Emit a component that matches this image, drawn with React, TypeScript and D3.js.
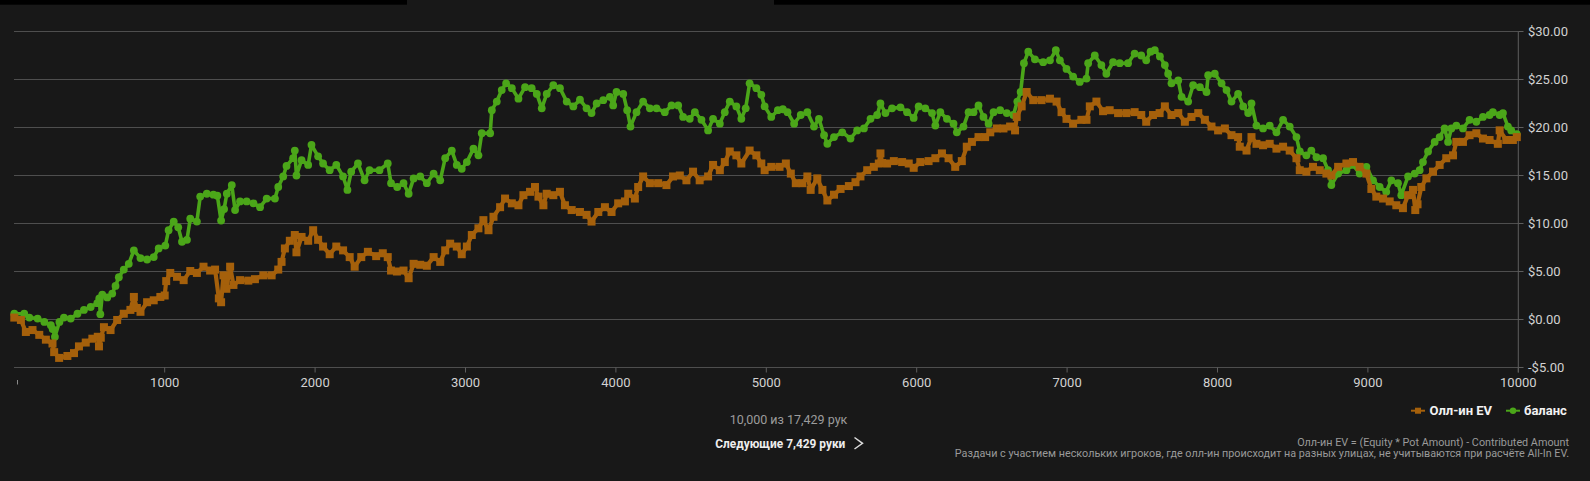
import React, { useEffect } from "react";
import * as d3 from "d3";

// ---- data (hand number, dollars) ----
const balHands = [0,66,100,155,200,243,255,270,300,330,375,420,463,508,552,565,572,585,618,651,673,695,728,761,795,839,883,927,960,1004,1026,1060,1090,1115,1148,1170,1214,1236,1280,1324,1350,1375,1395,1413,1446,1468,1501,1545,1590,1634,1678,1733,1755,1788,1810,1854,1865,1876,1910,1954,1976,2020,2053,2097,2141,2186,2215,2240,2285,2329,2362,2428,2483,2505,2546,2588,2622,2655,2699,2743,2788,2832,2865,2909,2942,2975,3009,3053,3086,3108,3164,3175,3208,3241,3270,3308,3352,3396,3440,3474,3507,3540,3584,3628,3673,3717,3761,3805,3838,3872,3916,3960,3982,4004,4049,4075,4097,4137,4181,4226,4270,4325,4370,4414,4447,4491,4525,4569,4613,4646,4691,4724,4757,4801,4834,4863,4889,4934,4967,4989,5033,5077,5110,5141,5185,5229,5273,5317,5350,5384,5406,5450,5505,5560,5604,5649,5693,5737,5759,5792,5836,5892,5936,5980,6013,6057,6102,6124,6157,6201,6245,6267,6311,6345,6378,6411,6444,6478,6511,6555,6599,6643,6669,6691,6713,6742,6786,6841,6886,6925,6952,6996,7040,7084,7129,7140,7184,7228,7261,7306,7350,7405,7449,7493,7526,7555,7583,7617,7650,7672,7694,7739,7761,7805,7838,7883,7927,7938,7982,8027,8060,8093,8137,8171,8204,8226,8259,8303,8347,8392,8436,8480,8525,8547,8591,8624,8658,8702,8735,8757,8802,8857,8901,8945,8990,9034,9078,9122,9156,9200,9222,9267,9311,9344,9366,9400,9444,9477,9510,9533,9555,9588,9632,9676,9721,9765,9809,9831,9876,9898,9931,9953,9990];
const balValues = [0.6,0.6,0.2,0.1,-0.25,-0.6,-1.0,-1.8,-0.25,0.2,0.1,0.6,1.0,1.3,1.7,2.2,0.55,2.6,2.3,2.7,3.5,4.4,5.2,5.8,7.2,6.4,6.25,6.5,7.4,7.7,9.3,10.2,9.6,8.1,8.3,10.5,10.2,12.8,13.1,13.0,12.9,10.3,11.5,13.1,14.0,11.4,12.3,12.3,12.1,11.7,12.6,12.6,13.8,14.9,16.0,16.8,17.6,15.0,16.6,16.1,18.2,17.0,16.25,15.55,16.1,14.9,13.5,15.4,16.25,14.5,15.55,15.55,16.25,14.2,13.8,14.2,13.1,14.7,14.9,14.2,15.2,14.5,16.8,17.6,16.1,15.7,16.4,17.8,17.1,19.4,19.4,21.8,22.7,23.9,24.6,24.1,23.0,24.2,24.1,23.5,22.0,23.5,24.4,24.1,22.7,22.2,22.9,22.0,21.5,22.5,22.85,23.2,22.3,23.7,23.5,21.8,20.1,21.6,22.7,22.0,22.0,21.6,22.3,22.3,21.1,20.9,21.6,20.8,19.7,20.9,20.4,21.6,22.7,22.2,20.9,22.0,24.6,24.1,23.4,22.2,21.1,21.8,21.9,21.6,20.4,21.3,21.6,20.1,20.9,19.2,18.3,19.0,19.5,18.85,19.7,19.9,20.9,21.3,22.5,21.5,22.0,22.1,21.6,21.0,22.2,22.0,21.5,20.2,21.6,20.9,20.4,19.5,20.1,21.6,21.6,22.3,21.1,20.4,21.6,21.8,21.5,21.3,22.7,23.7,26.7,27.9,27.1,26.8,27.0,28.05,27.0,26.1,25.3,24.75,25.1,26.7,27.5,26.5,25.6,26.8,26.7,26.7,27.7,27.5,27.0,27.9,28.05,27.4,26.5,25.6,24.6,24.9,23.2,22.7,24.4,24.2,23.7,25.45,25.6,24.6,23.9,22.7,23.5,22.2,21.5,22.5,20.2,19.9,20.2,19.5,20.8,20.1,19.0,17.5,17.1,17.6,16.9,16.8,15.55,14.0,15.2,15.55,16.1,15.2,15.9,14.5,13.8,13.3,14.5,14.2,12.95,14.9,15.2,15.55,16.4,17.5,18.5,19.0,19.9,18.5,19.9,20.2,19.9,20.8,20.6,21.1,21.3,21.6,21.3,21.5,20.1,19.7,19.3];

const evHands = [0,44,77,121,166,210,254,265,298,353,397,430,475,519,555,563,575,596,640,684,728,772,795,815,839,883,927,971,1000,1010,1037,1082,1126,1170,1214,1258,1302,1335,1360,1375,1391,1410,1435,1457,1501,1556,1600,1656,1711,1755,1777,1799,1832,1865,1876,1910,1954,1987,2020,2053,2097,2141,2186,2230,2263,2307,2351,2406,2450,2483,2505,2544,2588,2622,2655,2699,2743,2788,2832,2865,2898,2942,2975,3009,3042,3086,3119,3153,3186,3230,3263,3308,3352,3385,3429,3462,3485,3518,3540,3584,3628,3661,3706,3761,3805,3838,3883,3927,3971,4015,4060,4082,4126,4148,4181,4226,4281,4336,4380,4425,4469,4513,4557,4613,4646,4691,4724,4757,4801,4834,4889,4934,4967,4989,5033,5088,5130,5163,5196,5240,5273,5295,5339,5373,5406,5450,5494,5549,5593,5626,5671,5715,5748,5759,5770,5803,5848,5903,5947,5980,6024,6079,6124,6168,6212,6256,6300,6333,6367,6411,6455,6489,6533,6577,6621,6654,6665,6698,6731,6775,6830,6886,6930,6963,6996,7040,7095,7129,7151,7195,7239,7283,7339,7394,7449,7493,7526,7571,7615,7650,7694,7739,7783,7827,7872,7916,7960,8004,8049,8093,8137,8148,8193,8226,8259,8303,8347,8392,8436,8480,8525,8547,8591,8635,8680,8724,8757,8802,8857,8901,8945,8990,9023,9056,9101,9145,9189,9233,9267,9300,9315,9330,9355,9389,9433,9477,9521,9566,9588,9632,9676,9721,9765,9809,9864,9876,9920,9964,9990];
const evValues = [0.2,-0.05,-1.3,-1.1,-1.6,-2.1,-2.5,-3.4,-4.0,-3.8,-3.5,-2.8,-2.4,-2.0,-1.8,-2.8,-1.9,-0.8,-1.1,-0.05,0.6,1.0,2.35,1.2,0.8,1.8,2.0,2.35,2.5,4.0,4.85,4.45,4.1,5.05,4.85,5.5,5.1,5.2,2.2,1.8,4.6,3.2,5.5,3.6,4.1,4.05,4.2,4.6,4.6,5.2,6.0,7.4,8.2,8.8,7.0,8.6,8.2,9.3,8.3,7.6,6.8,7.6,7.2,6.5,5.5,6.5,7.05,6.6,6.9,6.5,5.1,5.0,5.1,4.3,5.8,5.7,5.6,6.5,6.0,7.2,7.9,7.6,6.8,7.6,8.8,9.5,10.35,9.3,10.7,11.7,12.6,12.1,11.9,12.95,13.3,13.8,12.8,11.9,13.1,12.95,13.3,11.9,11.4,11.2,10.9,10.2,11.2,11.7,11.2,12.1,12.3,13.1,12.6,13.8,14.9,14.2,14.2,14.0,14.9,15.0,14.5,15.4,14.5,14.9,16.1,15.55,16.4,17.5,17.1,16.25,17.6,17.1,16.25,15.55,15.9,15.9,16.25,15.2,14.2,14.2,14.9,13.5,14.7,13.5,12.4,13.0,13.6,13.9,14.3,14.9,15.55,15.9,16.25,17.3,16.3,16.25,16.5,16.4,16.25,15.8,16.4,16.5,16.8,17.3,16.8,15.9,16.5,18.0,18.5,19.0,19.0,19.5,19.9,19.9,20.1,19.7,21.1,22.2,23.7,22.85,22.85,23.0,22.7,21.6,20.9,20.4,20.8,20.8,22.2,22.7,21.7,21.8,21.5,21.5,21.6,21.3,20.6,21.3,21.5,22.2,21.3,21.5,20.6,21.1,21.5,20.8,20.1,19.7,19.9,19.2,19.0,18.0,17.6,19.0,18.3,18.15,18.3,17.8,18.0,17.6,16.8,15.55,15.4,15.9,15.55,15.2,15.0,15.9,16.25,16.4,15.9,15.2,13.6,12.8,12.6,12.3,11.9,11.6,12.95,13.5,11.4,12.0,13.8,14.7,15.4,16.1,16.8,17.1,18.5,18.5,19.2,19.4,18.85,18.7,18.3,19.7,18.7,18.7,19.0];

const xTicks = [1000,2000,3000,4000,5000,6000,7000,8000,9000,10000];
const yTicks = [-5,0,5,10,15,20,25,30];
const seriesNames = ["Олл-ин EV", "баланс"];
const handsShown = "10,000 из 17,429 рук";
const nextLabel = "Следующие 7,429 руки";
const noteLines = [
  "Олл-ин EV = (Equity * Pot Amount) - Contributed Amount",
  "Раздачи с участием нескольких игроков, где олл-ин происходит на разных улицах, не учитываются при расчёте All-In EV.",
];

const W = 1590, H = 481;
const BG = "#181818";
const ORANGE = "#a5600b";
const GREEN = "#4ba619";
const FONT = "Roboto, 'Open Sans', sans-serif";

export default function App() {
  useEffect(() => {
    document.body.style.margin = "0";
    document.body.style.background = BG;
  }, []);

  const x = d3.scaleLinear().domain([0, 10000]).range([14.3, 1518.3]);
  const y = d3.scaleLinear().domain([-5, 30]).range([367.5, 31.5]);

  const evPts = evHands.map((h, i) => [h, evValues[i]] as [number, number]);
  const balPts = balHands.map((h, i) => [h, balValues[i]] as [number, number]);
  const line = d3.line<[number, number]>().x(d => x(d[0])).y(d => y(d[1]));
  const fmt = (v: number) => (v < 0 ? "-$" : "$") + Math.abs(v).toFixed(2);

  return (
    <div style={{ position: "absolute", left: 0, top: 0, width: W, height: H, background: BG }}>
      <svg width={W} height={H} style={{ display: "block" }} fontFamily={FONT}>
        <rect x={0} y={0} width={W} height={H} fill={BG} />
        <rect x={0} y={0} width={407} height={4.7} fill="#000" />
        <rect x={774} y={0} width={W - 774} height={4.7} fill="#000" />

        {/* grid */}
        {yTicks.map(t => (
          <line key={"g" + t} x1={14} x2={1518.3} y1={y(t)} y2={y(t)} stroke="#4e4e4e" strokeWidth={1} />
        ))}
        {/* y axis */}
        <line x1={1518.3} x2={1518.3} y1={31.5} y2={372.5} stroke="#5e5e5e" strokeWidth={1} />
        {yTicks.map(t => (
          <g key={"yt" + t}>
            <line x1={1518.3} x2={1523.5} y1={y(t)} y2={y(t)} stroke="#5e5e5e" />
            <text x={1528} y={y(t) + 4.6} fill="#d2d2d2" fontSize={13}>{fmt(t)}</text>
          </g>
        ))}
        {/* x axis */}
        {xTicks.map(t => (
          <g key={"xt" + t}>
            <line x1={x(t)} x2={x(t)} y1={367.5} y2={372.5} stroke="#5e5e5e" />
            <text x={x(t)} y={387} fill="#d2d2d2" fontSize={13} textAnchor="middle">{t}</text>
          </g>
        ))}
        <rect x={17} y={380} width={1} height={4.5} fill="#8a8a8a" />

        {/* balance */}
        <path d={line(balPts) || ""} fill="none" stroke={GREEN} strokeWidth={3.6} strokeLinejoin="round" strokeLinecap="round" />
        {balPts.map((d, i) => (
          <circle key={"b" + i} cx={x(d[0])} cy={y(d[1])} r={3.9} fill={GREEN} />
        ))}
        {/* all-in EV */}
        <path d={line(evPts) || ""} fill="none" stroke={ORANGE} strokeWidth={4.2} strokeLinejoin="round" />
        {evPts.map((d, i) => (
          <rect key={"e" + i} x={x(d[0]) - 4} y={y(d[1]) - 4} width={8} height={8} fill={ORANGE} />
        ))}

        {/* footer */}
        <text x={788.5} y={423.5} fill="#9c9c9c" fontSize={12.5} textAnchor="middle">{handsShown}</text>
        <text x={780.3} y={448} fill="#ededed" fontSize={12.8} fontWeight="bold" textAnchor="middle" textLength={130} lengthAdjust="spacingAndGlyphs">{nextLabel}</text>
        <polyline points="854.5,437.5 862.5,443.3 854.5,449" fill="none" stroke="#dcdcdc" strokeWidth={1.5} />

        {/* legend */}
        <line x1={1411} x2={1425} y1={410.7} y2={410.7} stroke={ORANGE} strokeWidth={2} />
        <rect x={1415} y={407.7} width={6} height={6} fill={ORANGE} />
        <text x={1429.5} y={415.3} fill="#f2f2f2" fontSize={13} fontWeight="bold">{seriesNames[0]}</text>
        <line x1={1506} x2={1520} y1={410.7} y2={410.7} stroke={GREEN} strokeWidth={2} />
        <circle cx={1513} cy={410.7} r={3.2} fill={GREEN} />
        <text x={1524} y={415.3} fill="#f2f2f2" fontSize={13} fontWeight="bold">{seriesNames[1]}</text>

        {noteLines.map((t, i) => (
          <text key={"n" + i} x={1569} y={445.7 + i * 11.7} fill="#9a9a9a" fontSize={10.8} textAnchor="end">{t}</text>
        ))}
      </svg>
    </div>
  );
}
